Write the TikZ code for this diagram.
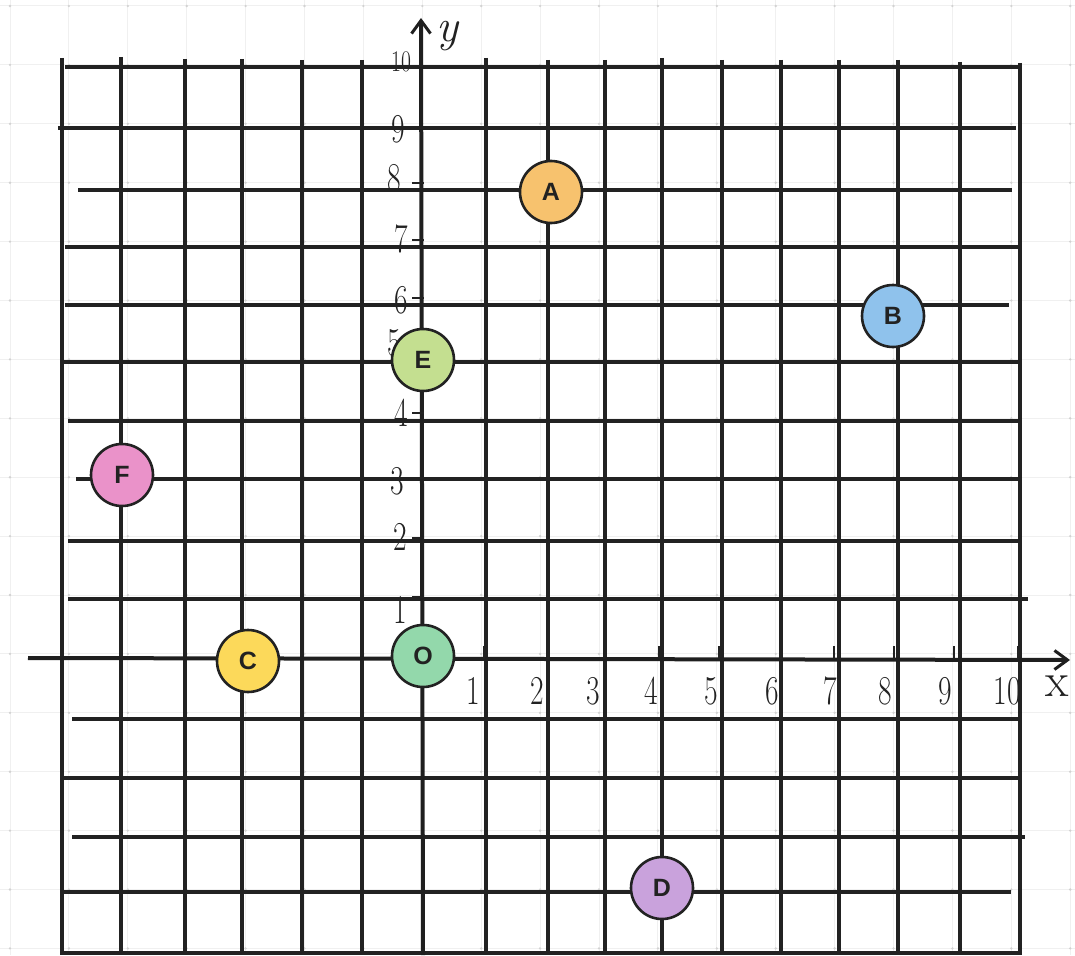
\documentclass[tikz,border=0pt]{standalone}
\usepackage{fontspec}
\newfontfamily\lblfont{Liberation Sans}
\usetikzlibrary{arrows.meta}
\definecolor{ink}{HTML}{222222}
\definecolor{cA}{HTML}{F7C26E}
\definecolor{cB}{HTML}{8FC2EC}
\definecolor{cC}{HTML}{FCD95A}
\definecolor{cD}{HTML}{C9A2DC}
\definecolor{cE}{HTML}{C4DF90}
\definecolor{cF}{HTML}{EA92C9}
\definecolor{cO}{HTML}{93D8AB}
\newcommand{\hw}[1]{\scalebox{0.72}[1]{#1}}
\tikzset{
  faint/.style={draw=gray!12, line width=1pt},
  fdot/.style={fill=gray!35},
  gridline/.style={draw=ink, line width=3.1pt},
  axisline/.style={draw=ink!90!black, line width=4pt, -{Straight Barb[length=13pt,width=19pt,line width=3pt]}},
  tickmark/.style={draw=ink, line width=2.6pt},
  num/.style={font=\fontsize{41}{41}\selectfont, text=ink, inner sep=0pt},
  pnt/.style={circle, draw=ink, line width=2.6pt, minimum size=62pt, inner sep=0pt,
              font=\lblfont\fontsize{25}{25}\selectfont\bfseries, text=ink}
}
\begin{document}
\begin{tikzpicture}[x=1pt,y=-1pt]
\useasboundingbox (0,0) rectangle (1075,955);
\fill[white] (0,0) rectangle (1075,955);
% faint background paper grid
\foreach \i in {0,...,18} \draw[faint] ({10+58.9*\i},0) -- ({10+58.9*\i},955);
\foreach \j in {0,...,16} \draw[faint] (0,{6+58.9*\j}) -- (1075,{6+58.9*\j});
\foreach \i in {0,...,18} \foreach \j in {0,...,16} \fill[fdot] ({10+58.9*\i},{6+58.9*\j}) circle (1.3pt);
% dark vertical grid lines
\foreach \xx/\tp in {62/58,121/57,185/59,242/59,302/60,362/60,486/58,548/60,605/60,662/58,722/60,781/60,839/60,898/60,960/62,1020/63}
  \draw[gridline] (\xx,\tp) -- (\xx,955);
% dark horizontal grid lines
\foreach \yy/\xa/\xb in {67/65/1020,128/58/1016,190/78/1012,247/65/1020,305/65/1009,362/62/1020,421/68/1020,479/76/1020,541/68/1020,599/68/1028,719/72/1018,778/62/1021,837/72/1025,892/60/1011,953/62/1021}
  \draw[gridline] (\xa,\yy) -- (\xb,\yy);
% axes
\coordinate (xs) at (28,658);
\coordinate (xe) at (1070,660);
\coordinate (ys) at (423,955);
\coordinate (ye) at (421,18);
\draw[axisline] (xs) -- (xe);
\draw[axisline] (ys) -- (ye);
\node[num, font=\fontsize{46}{46}\selectfont\itshape] (ylab) at (447,36) {y};
\node[num, font=\fontsize{48}{48}\selectfont] (xlab) at (1057,686) {x};
% x ticks and labels
\foreach \t/\l [count=\n] in {484/473,548/537,604/593,659/651,719/711,781/772,834/830,894/885,954/945,1018/1007}{
  \draw[tickmark] (\t,646) -- (\t,659);
  \node[num] (xn\n) at (\l,691) {\hw{\n}};
}
% y ticks
\foreach \t in {66,128,183,240,298,345,413,478,538,597}{
  \draw[tickmark] (412,\t) -- (424,\t);
}
\node[num, font=\fontsize{30}{30}\selectfont] (yn10) at (401,62) {\hw{10}};
\node[num] (yn9) at (398,129) {\hw{9}};
\node[num] (yn8) at (394,178) {\hw{8}};
\node[num] (yn7) at (401,239) {\hw{7}};
\node[num] (yn6) at (401,300) {\hw{6}};
\node[num] (yn5) at (394,343) {\hw{5}};
\node[num] (yn4) at (401,413) {\hw{4}};
\node[num] (yn3) at (397,481) {\hw{3}};
\node[num] (yn2) at (400,537) {\hw{2}};
\node[num] (yn1) at (400,610) {\hw{1}};
% points
\node[pnt, fill=cA] (A) at (551,192) {A};
\node[pnt, fill=cB] (B) at (893,316) {B};
\node[pnt, fill=cC] (C) at (248,661) {C};
\node[pnt, fill=cD] (D) at (662,888) {D};
\node[pnt, fill=cE] (E) at (423,360) {E};
\node[pnt, fill=cF] (F) at (122,475) {F};
\node[pnt, fill=cO] (O) at (423,656) {O};
\end{tikzpicture}
\end{document}
